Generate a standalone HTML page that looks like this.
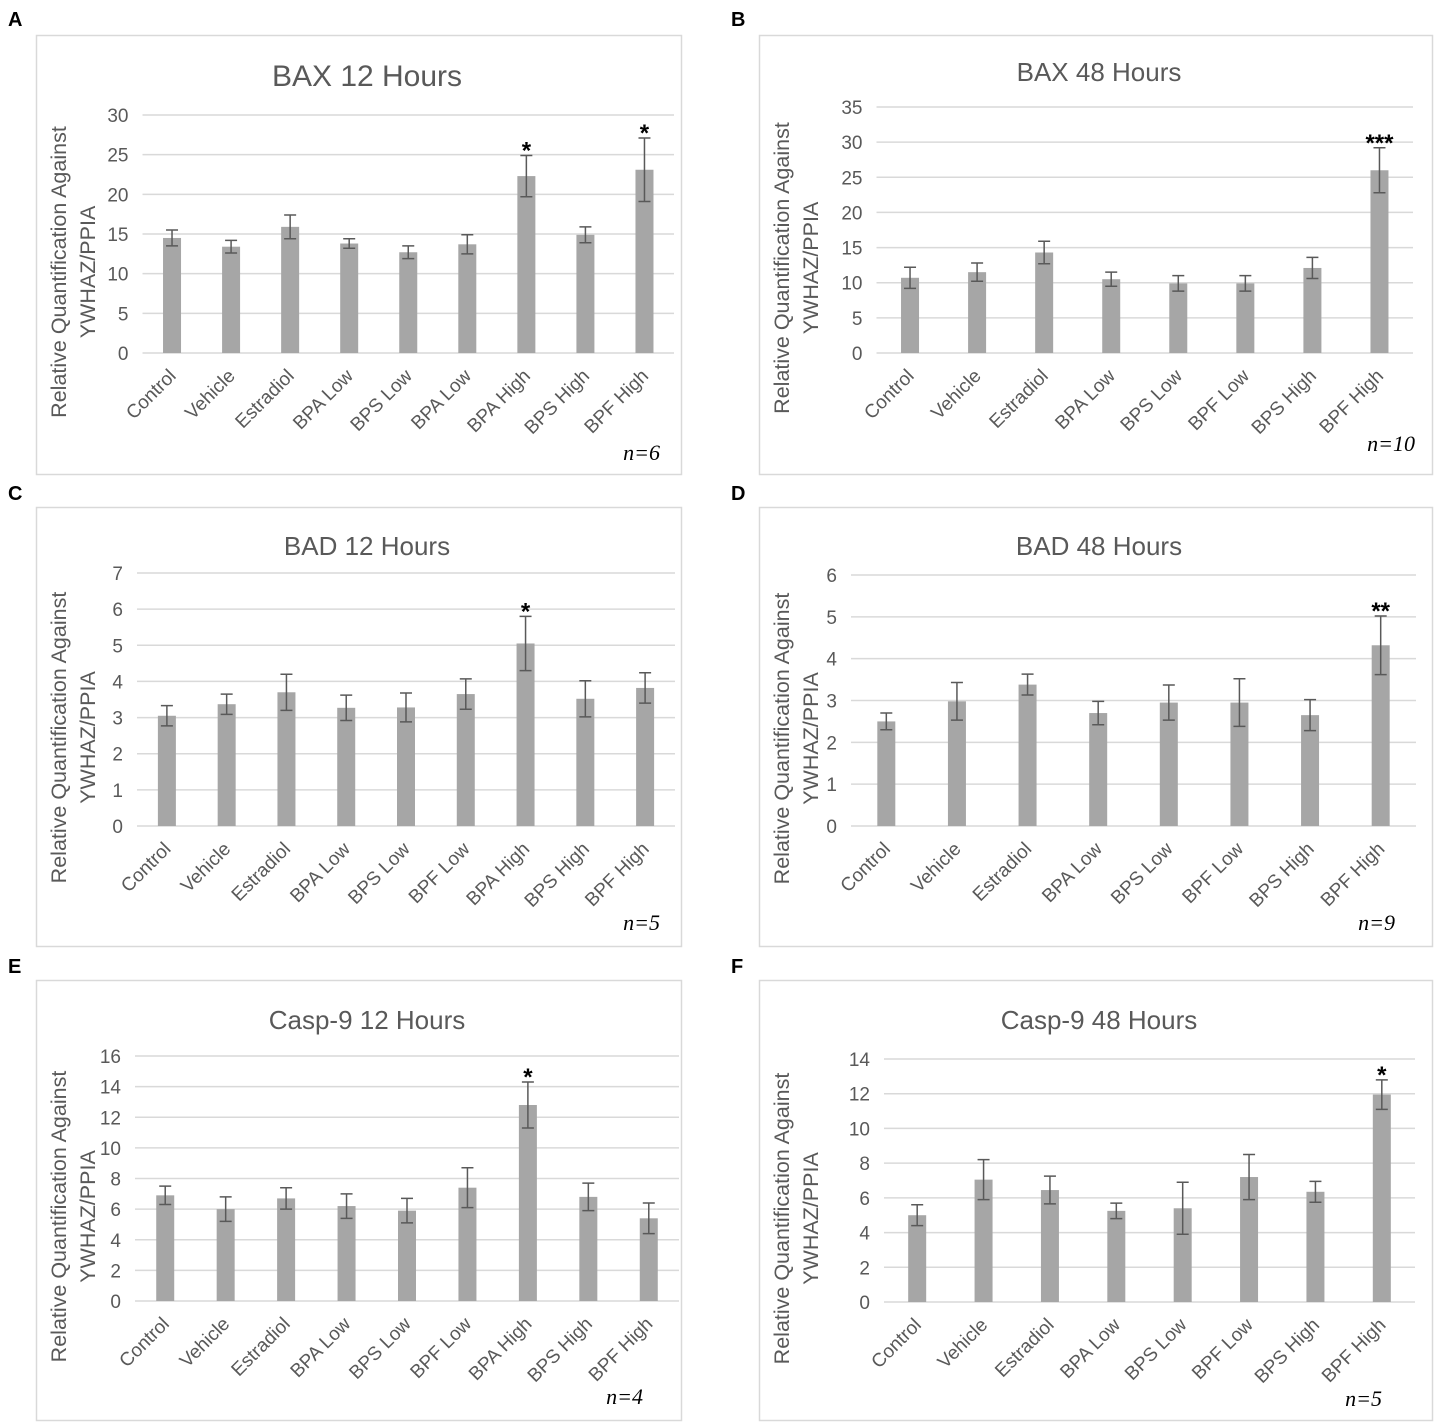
<!DOCTYPE html>
<html><head><meta charset="utf-8"><style>
body{margin:0;background:#fff;}
svg{display:block;font-family:"Liberation Sans",sans-serif;}
</style></head><body>
<svg id="fig" width="1447" height="1425" viewBox="0 0 1447 1425" xmlns="http://www.w3.org/2000/svg"></svg>
<script>
const catsA=["Control","Vehicle","Estradiol","BPA Low","BPS Low","BPA Low","BPA High","BPS High","BPF High"];
const valsA=[14.5,13.4,15.9,13.8,12.7,13.7,22.3,14.9,23.1];
const errA=[1.0,0.8,1.5,0.6,0.8,1.2,2.6,1.0,4.0];
const starsA=["","","","","","","*","","*"];
const ticksA=[0,5,10,15,20,25,30];
const cats8=["Control","Vehicle","Estradiol","BPA Low","BPS Low","BPF Low","BPS High","BPF High"];
const cats9=["Control","Vehicle","Estradiol","BPA Low","BPS Low","BPF Low","BPA High","BPS High","BPF High"];
const valsB=[10.7,11.5,14.3,10.5,9.9,9.9,12.1,26.0];
const errB=[1.5,1.3,1.6,1.0,1.1,1.1,1.5,3.2];
const starsB=["","","","","","","","***"];
const ticksB=[0,5,10,15,20,25,30,35];
const valsC=[3.05,3.37,3.7,3.27,3.28,3.65,5.05,3.52,3.82];
const errC=[0.28,0.28,0.5,0.35,0.4,0.42,0.75,0.5,0.42];
const starsC=["","","","","","","*","",""];
const ticksC=[0,1,2,3,4,5,6,7];
const valsD=[2.5,2.98,3.38,2.7,2.95,2.95,2.65,4.32];
const errD=[0.2,0.45,0.25,0.28,0.42,0.57,0.37,0.7];
const starsD=["","","","","","","","**"];
const ticksD=[0,1,2,3,4,5,6];
const valsE=[6.9,6.0,6.7,6.2,5.9,7.4,12.8,6.8,5.4];
const errE=[0.6,0.8,0.7,0.8,0.8,1.3,1.5,0.9,1.0];
const starsE=["","","","","","","*","",""];
const ticksE=[0,2,4,6,8,10,12,14,16];
const valsF=[5.0,7.05,6.45,5.25,5.4,7.2,6.35,11.95];
const errF=[0.6,1.15,0.8,0.45,1.5,1.3,0.6,0.85];
const starsF=["","","","","","","","*"];
const ticksF=[0,2,4,6,8,10,12,14];

const NS="http://www.w3.org/2000/svg";
const svg=document.getElementById('fig');
function mk(tag,attrs,parent,text){const e=document.createElementNS(NS,tag);for(const k in attrs)e.setAttribute(k,attrs[k]);if(text!==undefined)e.textContent=text;(parent||svg).appendChild(e);return e;}

const panels=[
 {id:"a",letter:"A",lx:8,ly:26,box:[36,35,645,439],title:"BAX 12 Hours",tx:367,ty:86,tfs:29,left:142.5,right:674,top:115,bottom:353,cats:catsA,vals:valsA,err:errA,stars:starsA,ticks:ticksA,n:"n=6",nx:660,ny:460},
 {id:"b",letter:"B",lx:731,ly:26,box:[759,35,673,439],title:"BAX 48 Hours",tx:1099,ty:81,tfs:25,left:876.5,right:1413,top:107,bottom:353,cats:cats8,vals:valsB,err:errB,stars:starsB,ticks:ticksB,n:"n=10",nx:1415,ny:451},
 {id:"c",letter:"C",lx:8,ly:500,box:[36,507,645,439],title:"BAD 12 Hours",tx:367,ty:555,tfs:25,left:137,right:675,top:573,bottom:826,cats:cats9,vals:valsC,err:errC,stars:starsC,ticks:ticksC,n:"n=5",nx:660,ny:930},
 {id:"d",letter:"D",lx:731,ly:500,box:[759,507,673,439],title:"BAD 48 Hours",tx:1099,ty:555,tfs:25,left:851,right:1416,top:575,bottom:826,cats:cats8,vals:valsD,err:errD,stars:starsD,ticks:ticksD,n:"n=9",nx:1395,ny:930},
 {id:"e",letter:"E",lx:8,ly:973,box:[36,980,645,440],title:"Casp-9 12 Hours",tx:367,ty:1029,tfs:25,left:135,right:679,top:1056,bottom:1301,cats:cats9,vals:valsE,err:errE,stars:starsE,ticks:ticksE,n:"n=4",nx:643,ny:1404},
 {id:"f",letter:"F",lx:731,ly:973,box:[759,980,673,440],title:"Casp-9 48 Hours",tx:1099,ty:1029,tfs:25,left:884,right:1415,top:1059,bottom:1302,cats:cats8,vals:valsF,err:errF,stars:starsF,ticks:ticksF,n:"n=5",nx:1382,ny:1406}
];

panels.forEach(p=>{
 const g=mk('g',{});
 
 
 const L=mk('text',{x:p.lx,y:p.ly,'font-size':20,'font-weight':'bold',fill:'#000'},g,p.letter);
 
 
 const b=p.box;
 const r=mk('rect',{x:b[0]+0.5,y:b[1]+0.5,width:b[2],height:b[3],fill:'#fff',stroke:'#d9d9d9','stroke-width':1.5},g);
 
 
 const t=mk('text',{x:p.tx,y:p.ty,'font-size':p.tfs+1,fill:'#595959','text-anchor':'middle'},g,p.title);
 
 
 const ymax=p.ticks[p.ticks.length-1];
 const ys=v=>p.bottom-(v/ymax)*(p.bottom-p.top);
 const n=p.cats.length, step=(p.right-p.left)/n;
 const xs=i=>p.left+step*(i+0.5);
 p.ticks.forEach(tv=>{
  const y=ys(tv);
  const gl=mk('line',{x1:p.left,x2:p.right,y1:y,y2:y,stroke:'#d9d9d9','stroke-width':1.5},g);
  
  
  const tl=mk('text',{x:p.left-14,y:y+7,'font-size':19,fill:'#595959','text-anchor':'end'},g,String(tv));
  
  
 });
 const cy=(p.top+p.bottom)/2+38;
 const yt=mk('text',{transform:`translate(${p.box[0]+30},${cy}) rotate(-90)`,'font-size':21.5,fill:'#595959','text-anchor':'middle'},g);
 
 
 mk('tspan',{x:0,y:0},yt,'Relative Quantification Against');
 mk('tspan',{x:0,y:29},yt,'YWHAZ/PPIA');
 const bw=18;
 p.vals.forEach((v,i)=>{
  const x=xs(i);
  const bar=mk('rect',{x:x-bw/2,y:ys(v),width:bw,height:p.bottom-ys(v),fill:'#a6a6a6'},g);
  
  
  const e=p.err[i], y1=ys(v+e), y2=ys(v-e);
  const eb=mk('path',{d:`M${x},${y1}V${y2}M${x-6},${y1}H${x+6}M${x-6},${y2}H${x+6}`,stroke:'#595959','stroke-width':1.5,fill:'none'},g);
  
  
  if(p.stars[i]){
   const s=mk('text',{x:x,y:y1+3,'font-size':24,'font-weight':'bold',fill:'#000','text-anchor':'middle'},g,p.stars[i]);
   
   
  }
  const cl=mk('text',{transform:`translate(${x+5},${p.bottom+24}) rotate(-45)`,'font-size':19,fill:'#595959','text-anchor':'end'},g,p.cats[i]);
  
  
 });
 const nl=mk('text',{x:p.nx,y:p.ny,'font-size':22,'font-style':'italic','font-family':'"Liberation Serif",serif',fill:'#000','text-anchor':'end'},g,p.n);
 
 
});
</script>
</body></html>
